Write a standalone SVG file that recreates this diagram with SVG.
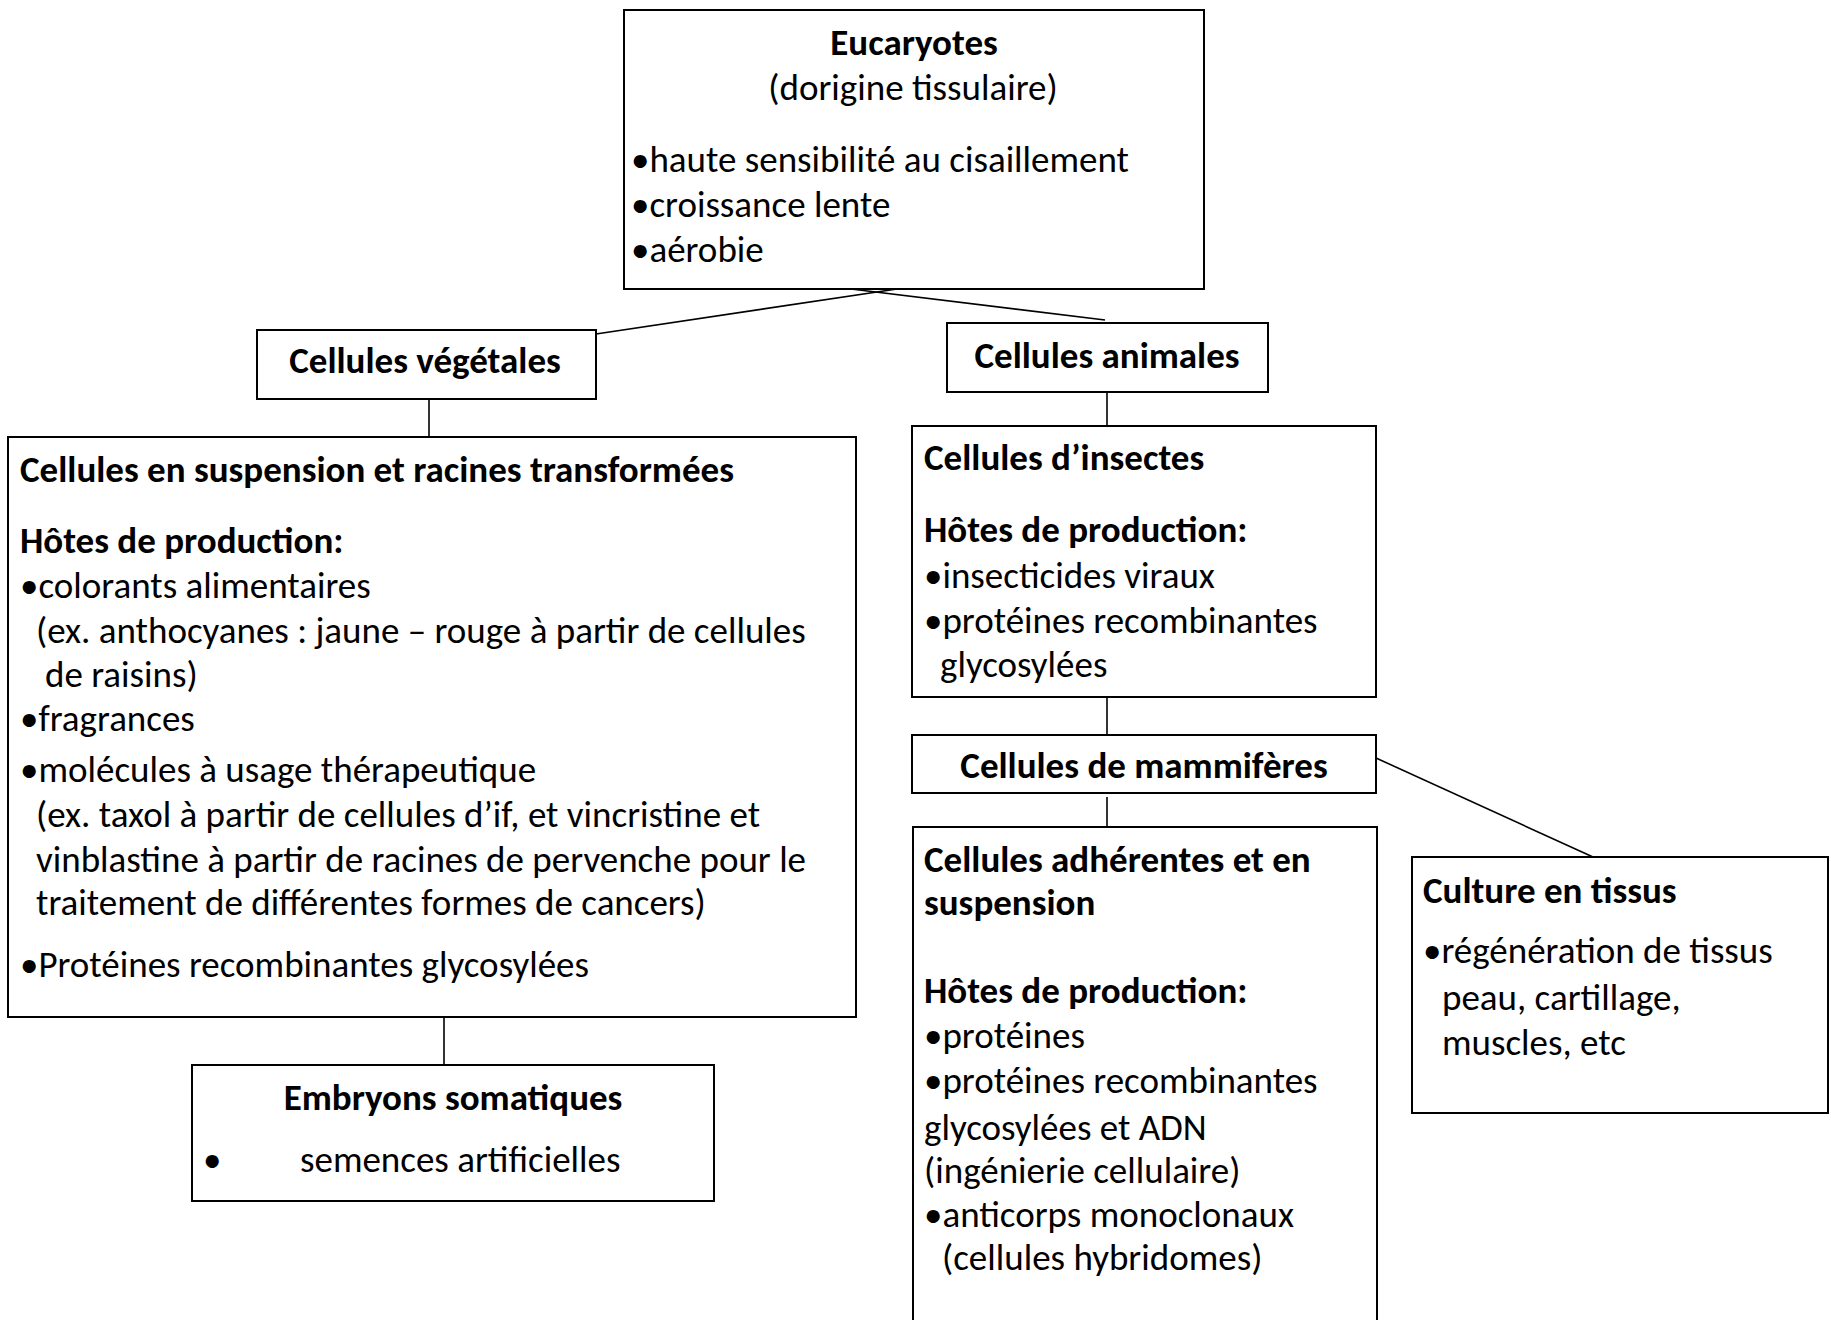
<svg xmlns="http://www.w3.org/2000/svg" width="1831" height="1320" viewBox="0 0 1831 1320">
<style>
.box{fill:#fff;stroke:#000;stroke-width:2}
.ln{stroke:#000;stroke-width:1.6;fill:none}
text{font-family:Carlito,Lato,"Liberation Sans",sans-serif;font-size:37px;fill:#000}
.b{font-weight:bold}
.c{text-anchor:middle}
</style>
<rect width="1831" height="1320" fill="#fff"/>
<g id="connectors">
<line class="ln" x1="897" y1="289" x2="596" y2="334"/>
<line class="ln" x1="851" y1="289" x2="1105" y2="320"/>
<line class="ln" x1="429" y1="399" x2="429" y2="437"/>
<line class="ln" x1="444" y1="1017" x2="444" y2="1065"/>
<line class="ln" x1="1107" y1="392" x2="1107" y2="426"/>
<line class="ln" x1="1107" y1="697" x2="1107" y2="735"/>
<line class="ln" x1="1107" y1="797" x2="1107" y2="827"/>
<line class="ln" x1="1376" y1="758" x2="1593" y2="857"/>
</g>
<g id="eucaryotes">
<rect class="box" x="624" y="10" width="580" height="279"/>
<text class="b c" x="914" y="55">Eucaryotes</text>
<text class="c" x="913" y="100">(dorigine tissulaire)</text>
<text x="631" y="172">•haute sensibilité au cisaillement</text>
<text x="631" y="217">•croissance lente</text>
<text x="631" y="262">•aérobie</text>
</g>
<g id="vegetales">
<rect class="box" x="257" y="330" width="339" height="69"/>
<text class="b c" x="425" y="373">Cellules végétales</text>
</g>
<g id="suspension">
<rect class="box" x="8" y="437" width="848" height="580"/>
<text class="b" x="20" y="482">Cellules en suspension et racines transformées</text>
<text class="b" x="20" y="553">Hôtes de production:</text>
<text x="20" y="598">•colorants alimentaires</text>
<text x="36" y="643">(ex. anthocyanes : jaune – rouge à partir de cellules</text>
<text x="45" y="687">de raisins)</text>
<text x="20" y="731">•fragrances</text>
<text x="20" y="782">•molécules à usage thérapeutique</text>
<text x="36" y="827">(ex. taxol à partir de cellules d’if, et vincristine et</text>
<text x="36" y="872">vinblastine à partir de racines de pervenche pour le</text>
<text x="36" y="915">traitement de différentes formes de cancers)</text>
<text x="20" y="977">•Protéines recombinantes glycosylées</text>
</g>
<g id="embryons">
<rect class="box" x="192" y="1065" width="522" height="136"/>
<text class="b c" x="453" y="1110">Embryons somatiques</text>
<text x="203" y="1172">•</text>
<text x="300" y="1172">semences artificielles</text>
</g>
<g id="animales">
<rect class="box" x="947" y="323" width="321" height="69"/>
<text class="b c" x="1107" y="368">Cellules animales</text>
</g>
<g id="insectes">
<rect class="box" x="912" y="426" width="464" height="271"/>
<text class="b" x="924" y="470">Cellules d’insectes</text>
<text class="b" x="924" y="542">Hôtes de production:</text>
<text x="924" y="588">•insecticides viraux</text>
<text x="924" y="633">•protéines recombinantes</text>
<text x="940" y="677">glycosylées</text>
</g>
<g id="mammiferes">
<rect class="box" x="912" y="735" width="464" height="58"/>
<text class="b c" x="1144" y="778">Cellules de mammifères</text>
</g>
<g id="adherentes">
<rect class="box" x="913" y="827" width="464" height="520"/>
<text class="b" x="924" y="872">Cellules adhérentes et en</text>
<text class="b" x="924" y="915">suspension</text>
<text class="b" x="924" y="1003">Hôtes de production:</text>
<text x="924" y="1048">•protéines</text>
<text x="924" y="1093">•protéines recombinantes</text>
<text x="924" y="1140">glycosylées et ADN</text>
<text x="924" y="1183">(ingénierie cellulaire)</text>
<text x="924" y="1227">•anticorps monoclonaux</text>
<text x="942" y="1270">(cellules hybridomes)</text>
</g>
<g id="culture">
<rect class="box" x="1412" y="857" width="416" height="256"/>
<text class="b" x="1423" y="903">Culture en tissus</text>
<text x="1423" y="963">•régénération de tissus</text>
<text x="1442" y="1010">peau, cartillage,</text>
<text x="1442" y="1055">muscles, etc</text>
</g>
</svg>
